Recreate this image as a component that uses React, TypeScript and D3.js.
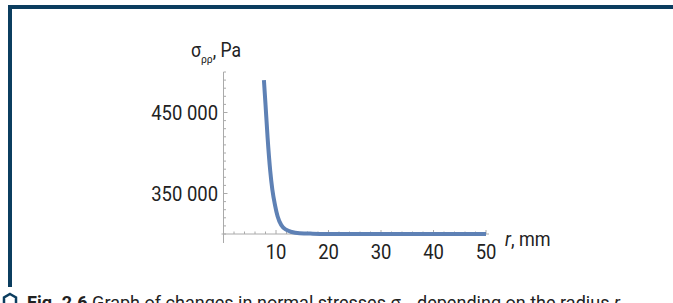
import React from 'react';
import * as d3 from 'd3';

// radius r, mm and normal stress sigma_rr, Pa
const radius = [7.7, 8.0, 8.4, 8.9, 9.3, 9.8, 10.3, 11.0, 12.0, 13.0, 14.5, 17, 20, 30, 40, 50];
const stress = [490000, 460000, 419000, 378000, 355000, 336000, 322000, 311000, 305000, 302500, 301000, 300400, 300150, 300020, 300000, 300000];

const xTickLabels = [10, 20, 30, 40, 50];
const yTickLabels = [350000, 450000];

const W = 673;
const H = 303;
const navy = '#0b3d5f';
const axisColor = '#aaaaaa';
const font = 'Roboto, "Liberation Sans", sans-serif';
const squeeze = 0.9;

export default function App() {
  const x = d3.scaleLinear().domain([0, 50]).range([223.5, 486]);
  const y = d3.scaleLinear().domain([300000, 500000]).range([234, 72]);

  const line = d3
    .line<number>()
    .x((_, i) => x(radius[i]))
    .y(d => y(d))
    .curve(d3.curveMonotoneX);

  const xMinor = d3.range(2, 51, 2);
  const yMinor = d3.range(300000, 500001, 10000);
  const fmt = (v: number) => d3.format(',')(v).replace(/,/g, ' ');

  const x0 = x(0);
  const y0 = y(300000);

  return (
    <svg width={W} height={H} style={{ position: 'absolute', left: 0, top: 0 }}>
      <rect width={W} height={H} fill="#fff" />

      {/* frame */}
      <rect x={8} y={5} width={W - 8} height={4} fill={navy} />
      <rect x={8} y={5} width={4} height={282} fill={navy} />

      {/* axes */}
      <line x1={x0 - 2} x2={x(50) + 3} y1={y0} y2={y0} stroke={axisColor} strokeWidth={1} />
      <line x1={x0} x2={x0} y1={y(500000)} y2={y0 + 9} stroke={axisColor} strokeWidth={1} />

      {xMinor.map(v => (
        <line key={'xt' + v} x1={x(v)} x2={x(v)} y1={y0} y2={y0 - (v % 10 === 0 ? 4 : 2.5)} stroke={axisColor} />
      ))}
      {yMinor.map(v => (
        <line key={'yt' + v} x1={x0} x2={x0 + (yTickLabels.includes(v) ? 4 : 2.5)} y1={y(v)} y2={y(v)} stroke={axisColor} />
      ))}

      {xTickLabels.map(v => (
        <text
          key={'xl' + v}
          transform={`translate(${x(v)},258.5) scale(${squeeze},1)`}
          textAnchor="middle"
          fontFamily={font}
          fontSize={20.5}
          fill="#222"
        >
          {v}
        </text>
      ))}
      {yTickLabels.map(v => (
        <text
          key={'yl' + v}
          transform={`translate(218,${y(v) + 7.5}) scale(${squeeze},1)`}
          textAnchor="end"
          fontFamily={font}
          fontSize={20.5}
          fill="#222"
        >
          {fmt(v)}
        </text>
      ))}

      {/* axis titles */}
      <text transform={`translate(191,57) scale(${squeeze},1)`} fontFamily={font} fontSize={19.5} fill="#222">
        σ<tspan dy={6} fontSize={11.5}>ρρ</tspan>
        <tspan dy={-6}>, Pa</tspan>
      </text>
      <text transform={`translate(505,246) scale(${squeeze},1)`} fontFamily={font} fontSize={20} fill="#222">
        <tspan fontStyle="italic">r</tspan>, mm
      </text>

      {/* curve */}
      <path d={line(stress) || ''} fill="none" stroke="#5E81B5" strokeWidth={4} strokeLinecap="butt" />

      {/* caption */}
      <polygon points="10,294 16,297.5 16,305 10,308.5 4,305 4,297.5" fill="none" stroke={navy} strokeWidth={2.5} />
      <text transform={`translate(27,309) scale(0.95,1)`} fontFamily={font} fontSize={19} fill="#222">
        <tspan fontWeight="bold">Fig. 2.6</tspan> Graph of changes in normal stresses σ
        <tspan dy={4} fontSize={11}>ρρ</tspan>
        <tspan dy={-4}> depending on the radius </tspan>
        <tspan fontStyle="italic">r</tspan>
      </text>
    </svg>
  );
}
